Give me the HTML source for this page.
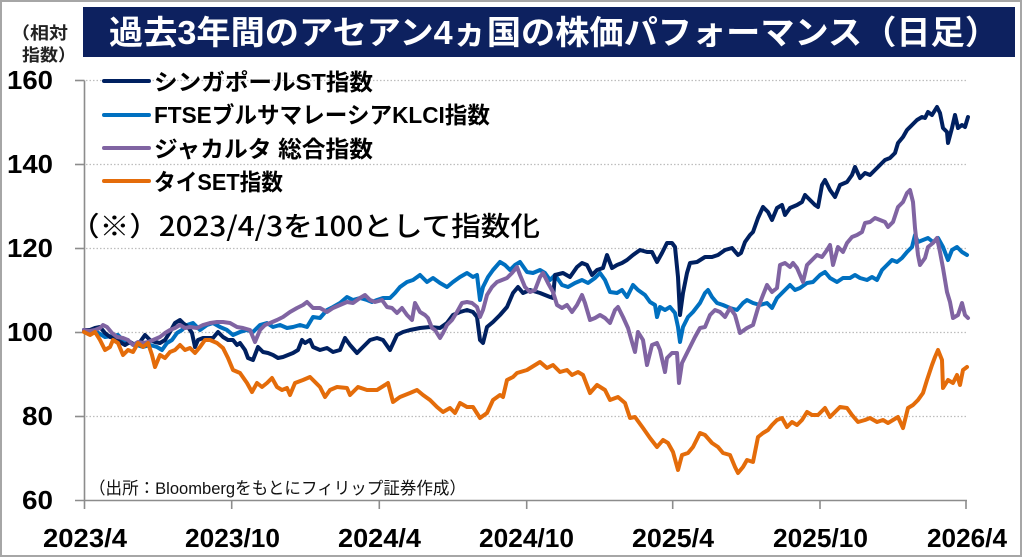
<!DOCTYPE html>
<html>
<head>
<meta charset="utf-8">
<style>
  html, body { margin: 0; padding: 0; background: #ffffff; }
  svg { display: block; }
  .jp { font-family: "Liberation Sans", "Noto Sans CJK JP", sans-serif; }
  .jp2 { font-family: "Noto Sans CJK JP", "Liberation Sans", sans-serif; }
  .num { font-family: "Liberation Sans", sans-serif; font-weight: bold; }
</style>
</head>
<body>
<svg width="1024" height="558" viewBox="0 0 1024 558" xmlns="http://www.w3.org/2000/svg">
  <rect x="0" y="0" width="1024" height="558" fill="#ffffff"/>
  <rect x="1" y="1" width="1020" height="555" fill="none" stroke="#a6a6a6" stroke-width="2"/>

  <!-- Title -->
  <rect x="83" y="7" width="932" height="50" fill="#0d215f"/>
  <text class="jp" x="109" y="44" font-size="33" font-weight="bold" fill="#ffffff" textLength="890" lengthAdjust="spacingAndGlyphs">過去3年間のアセアン4ヵ国の株価パフォーマンス（日足）</text>

  <!-- axis unit label -->
  <text class="jp" x="11" y="39" font-size="17" font-weight="bold" fill="#222" textLength="57" lengthAdjust="spacingAndGlyphs">（相対</text>
  <text class="jp" x="22" y="61" font-size="17" font-weight="bold" fill="#222" textLength="54" lengthAdjust="spacingAndGlyphs">指数）</text>

  <!-- gridlines -->
  <g stroke="#bdbdbd" stroke-width="1.3" stroke-dasharray="1.5 2">
    <line x1="86" y1="80.5" x2="967" y2="80.5"/>
    <line x1="86" y1="164.5" x2="967" y2="164.5"/>
    <line x1="86" y1="248.5" x2="967" y2="248.5"/>
    <line x1="86" y1="332.5" x2="967" y2="332.5"/>
    <line x1="86" y1="416.5" x2="967" y2="416.5"/>
  </g>

  <!-- axes -->
  <g stroke="#8c8c8c" stroke-width="1.6" fill="none">
    <line x1="84.5" y1="80.5" x2="84.5" y2="500.5"/>
    <line x1="75" y1="500.5" x2="967" y2="500.5"/>
    <line x1="75" y1="80.5" x2="84.5" y2="80.5"/>
    <line x1="75" y1="164.5" x2="84.5" y2="164.5"/>
    <line x1="75" y1="248.5" x2="84.5" y2="248.5"/>
    <line x1="75" y1="332.5" x2="84.5" y2="332.5"/>
    <line x1="75" y1="416.5" x2="84.5" y2="416.5"/>
    <line x1="84.5" y1="500.5" x2="84.5" y2="509"/>
    <line x1="231.7" y1="500.5" x2="231.7" y2="509"/>
    <line x1="379.3" y1="500.5" x2="379.3" y2="509"/>
    <line x1="526.7" y1="500.5" x2="526.7" y2="509"/>
    <line x1="672.7" y1="500.5" x2="672.7" y2="509"/>
    <line x1="820" y1="500.5" x2="820" y2="509"/>
    <line x1="966" y1="500.5" x2="966" y2="509"/>
  </g>

  <!-- y labels -->
  <g class="num" font-size="26" fill="#000" text-anchor="end">
    <text x="53" y="89" textLength="46" lengthAdjust="spacingAndGlyphs">160</text>
    <text x="53" y="173" textLength="46" lengthAdjust="spacingAndGlyphs">140</text>
    <text x="53" y="257" textLength="46" lengthAdjust="spacingAndGlyphs">120</text>
    <text x="53" y="341" textLength="46" lengthAdjust="spacingAndGlyphs">100</text>
    <text x="53" y="425" textLength="31" lengthAdjust="spacingAndGlyphs">80</text>
    <text x="53" y="509" textLength="31" lengthAdjust="spacingAndGlyphs">60</text>
  </g>

  <!-- x labels -->
  <g class="num" font-size="26" fill="#000">
    <text x="43" y="547" textLength="84" lengthAdjust="spacingAndGlyphs">2023/4</text>
    <text x="185" y="547" textLength="95" lengthAdjust="spacingAndGlyphs">2023/10</text>
    <text x="338" y="547" textLength="83" lengthAdjust="spacingAndGlyphs">2024/4</text>
    <text x="479" y="547" textLength="95" lengthAdjust="spacingAndGlyphs">2024/10</text>
    <text x="632" y="547" textLength="82" lengthAdjust="spacingAndGlyphs">2025/4</text>
    <text x="773" y="547" textLength="95" lengthAdjust="spacingAndGlyphs">2025/10</text>
    <text x="927" y="547" textLength="80" lengthAdjust="spacingAndGlyphs">2026/4</text>
  </g>

  <!-- series -->
  <g fill="none" stroke-width="4" stroke-linejoin="round" stroke-linecap="round">
    <!-- Malaysia KLCI -->
    <polyline stroke="#0070c0" points="84,330 90,330 95,331 100,334 105,337 112,336 118,335 123,340 130,343 137,345 143,347 150,345 157,347 162,350 167,343 172,340 177,333 182,330 187,325 193,323 200,330 207,325 213,323 220,327 227,330 233,335 240,332 247,330 253,332 260,325 267,323 273,327 280,325 287,328 293,327 300,325 307,327 313,317 320,318 327,310 333,307 340,303 347,297 353,300 360,298 367,300 372,302 377,300 383,298 390,298 395,293 400,287 407,282 413,280 420,275 427,282 433,278 440,283 447,287 453,282 460,277 467,273 473,277 477,275 480,300 483,287 488,277 493,270 500,262 505,265 510,270 515,265 520,262 527,272 533,273 540,270 545,273 550,280 555,275 562,285 568,287 575,283 582,280 588,283 595,278 600,273 605,280 610,292 617,293 622,290 627,297 633,285 638,290 645,295 650,302 655,305 657,317 660,307 665,310 670,307 675,313 678,327 680,342 683,327 688,317 693,312 700,303 705,293 708,290 712,297 717,303 723,305 730,308 737,310 743,303 747,300 753,303 760,305 767,303 772,308 777,298 783,292 790,285 795,290 800,288 807,283 813,282 820,275 825,272 830,278 837,282 843,278 850,278 855,275 860,278 867,280 872,277 877,280 882,270 887,265 892,260 897,262 902,258 907,252 912,247 915,235 918,242 923,240 928,238 933,242 938,238 943,247 948,260 952,250 957,247 962,252 967,255"/>
    <!-- Singapore STI -->
    <polyline stroke="#002060" points="84,330 90,330 95,328 100,327 105,333 110,337 115,338 120,342 125,345 130,342 135,345 140,342 145,335 150,340 155,342 160,343 165,340 170,332 175,323 180,320 183,323 188,327 192,333 195,347 198,340 203,338 208,338 213,338 218,332 223,337 228,340 233,340 237,345 240,343 245,350 248,358 253,360 258,347 263,352 268,353 273,355 278,358 283,357 288,355 293,353 298,350 302,340 305,343 310,340 313,347 320,350 327,348 333,352 340,350 345,338 350,345 357,353 363,347 370,340 377,338 383,340 390,350 397,335 403,332 410,330 420,328 430,327 440,328 447,323 453,315 460,312 467,310 473,312 477,317 480,340 483,343 487,327 493,322 500,315 507,307 513,293 518,287 523,293 530,290 540,293 550,297 553,298 555,275 563,273 570,277 577,267 582,263 587,265 592,275 597,270 603,268 607,255 612,268 617,265 622,263 627,260 633,255 640,250 647,252 652,252 657,262 662,253 667,243 672,243 675,247 678,277 680,315 683,293 687,273 690,263 697,262 705,257 712,257 718,255 725,250 732,248 738,255 741,253 745,242 750,235 753,232 758,218 763,207 768,212 772,220 777,208 782,205 785,215 790,208 797,205 802,202 805,195 810,200 815,205 818,207 822,185 825,180 830,190 835,197 840,185 847,182 852,175 855,167 860,178 865,173 870,175 875,170 880,165 885,160 890,158 895,153 898,143 903,137 907,130 912,125 917,120 922,117 925,118 928,112 932,115 937,107 940,113 943,128 947,132 948,143 952,128 955,115 958,128 962,125 965,127 968,117"/>
    <!-- Jakarta Composite -->
    <polyline stroke="#8064a2" points="84,330 90,331 95,330 100,328 103,325 107,327 112,333 117,337 123,338 128,340 133,345 138,342 143,343 148,342 153,340 160,337 165,333 170,330 175,328 180,325 185,328 190,327 197,328 203,325 210,323 217,322 223,322 230,323 237,327 243,328 250,330 255,342 260,330 265,325 270,323 277,320 283,317 290,312 297,308 303,305 307,302 313,308 320,308 327,312 333,308 340,305 347,302 353,303 360,298 365,295 370,300 375,302 382,300 387,307 392,308 397,313 402,308 407,315 412,320 415,303 420,312 425,315 428,318 432,328 435,330 440,338 443,333 447,325 452,320 457,312 462,303 467,302 472,303 477,307 480,317 483,310 487,295 492,287 497,282 502,280 507,278 512,273 517,267 520,275 525,287 530,292 535,290 540,277 543,273 548,283 553,292 557,305 562,308 567,305 572,312 577,305 582,295 585,303 590,320 595,318 600,315 605,318 610,323 615,310 618,307 623,317 628,328 632,342 635,352 638,332 643,340 647,365 652,345 657,343 660,350 665,372 667,358 672,353 677,353 679,383 682,363 685,357 690,347 695,337 700,328 705,327 710,315 715,310 720,312 725,317 730,308 735,315 740,333 747,328 753,325 758,308 763,295 767,285 772,292 777,288 780,265 785,263 790,267 793,263 797,268 800,275 803,282 807,265 812,260 817,255 822,257 827,250 830,245 833,265 838,247 843,252 847,243 852,237 857,235 862,232 865,223 870,222 875,218 880,220 885,222 888,227 893,222 898,207 903,202 907,193 910,190 913,202 915,228 918,255 920,265 925,258 928,247 933,243 937,238 940,252 943,268 947,292 950,302 953,318 958,315 962,303 965,315 968,318"/>
    <!-- Thai SET -->
    <polyline stroke="#e46c0a" points="84,332 90,335 95,332 100,340 105,350 110,347 113,340 118,343 123,355 128,350 133,352 138,343 143,347 148,343 152,355 155,367 160,355 165,358 170,352 175,350 180,345 185,350 190,348 195,353 200,347 205,340 210,340 217,343 223,348 228,358 233,370 240,373 247,383 252,392 257,383 262,387 267,383 272,378 277,387 282,390 287,388 290,395 295,383 303,380 310,377 320,387 325,397 330,390 337,387 347,388 350,395 358,387 367,390 377,390 385,385 388,383 393,402 400,397 410,393 417,390 423,395 430,400 437,407 443,412 450,408 455,413 460,403 467,407 473,407 480,418 487,413 493,400 500,395 503,397 507,380 513,377 517,373 527,370 540,362 547,368 553,365 560,372 567,370 572,375 578,372 583,375 590,393 597,385 605,390 610,400 618,397 625,403 630,418 635,417 643,428 650,438 657,447 663,440 668,443 673,452 678,470 682,455 688,453 693,447 700,433 705,435 712,443 718,447 723,453 730,455 735,467 738,473 743,467 747,460 753,462 758,437 763,433 768,430 772,425 777,420 782,418 787,427 792,422 797,425 802,420 807,412 812,415 818,415 825,408 830,417 835,412 840,407 847,408 852,415 858,422 865,420 870,418 877,422 883,420 888,423 893,420 898,417 903,428 908,408 913,405 918,400 923,393 927,380 932,365 935,357 938,350 942,360 943,388 948,380 953,383 957,375 960,385 963,370 967,367"/>
  </g>

  <!-- legend -->
  <g stroke-width="4" stroke-linecap="round">
    <line x1="104" y1="81" x2="149" y2="81" stroke="#002060"/>
    <line x1="104" y1="115" x2="149" y2="115" stroke="#0070c0"/>
    <line x1="104" y1="148" x2="149" y2="148" stroke="#8064a2"/>
    <line x1="104" y1="181" x2="149" y2="181" stroke="#e46c0a"/>
  </g>
  <g class="jp" font-size="23" font-weight="bold" fill="#000">
    <text x="154" y="90" textLength="219" lengthAdjust="spacingAndGlyphs">シンガポールST指数</text>
    <text x="154" y="123" textLength="336" lengthAdjust="spacingAndGlyphs">FTSEブルサマレーシアKLCI指数</text>
    <text x="154" y="157" textLength="219" lengthAdjust="spacingAndGlyphs">ジャカルタ 総合指数</text>
    <text x="154" y="190" textLength="129" lengthAdjust="spacingAndGlyphs">タイSET指数</text>
  </g>

  <!-- note -->
  <text class="jp2" x="70" y="236" font-size="27" font-weight="500" fill="#000" textLength="470" lengthAdjust="spacingAndGlyphs">（※）2023/4/3を100として指数化</text>

  <!-- source -->
  <text class="jp" x="89" y="494" font-size="17" fill="#111" textLength="377" lengthAdjust="spacingAndGlyphs">（出所：Bloombergをもとにフィリップ証券作成）</text>
</svg>
</body>
</html>
